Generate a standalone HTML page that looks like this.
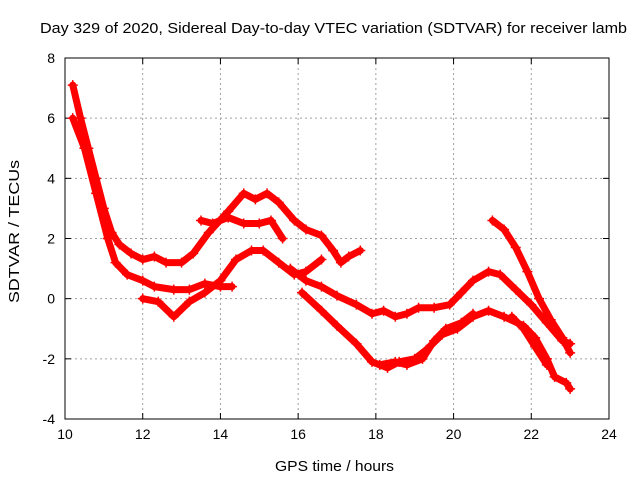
<!DOCTYPE html>
<html><head><meta charset="utf-8"><style>
body{margin:0;background:#fff}
svg{display:block;font-family:"Liberation Sans",sans-serif}
</style></head><body>
<svg id="c" width="640" height="480"></svg>
<script>
const xTicks=[10,12,14,16,18,20,22,24];
const yTicks=[-4,-2,0,2,4,6,8];
const s1x=[10.2,10.4,10.6,10.8,11,11.2,11.4,11.7,12,12.3,12.6,13,13.3,13.7,14.2,14.6,14.9,15.2,15.5,15.9,16.2,16.6,16.9,17.1,17.3,17.6];
const s1y=[7.1,6,5,4,3,2.2,1.8,1.5,1.3,1.4,1.2,1.2,1.5,2.2,2.9,3.5,3.3,3.5,3.2,2.6,2.3,2.1,1.6,1.2,1.4,1.6];
const s2x=[10.2,10.5,10.8,11.1,11.3,11.6,12,12.3,12.8,13.2,13.6,14,14.3];
const s2y=[6,5,3.5,2,1.2,0.8,0.6,0.4,0.3,0.3,0.5,0.4,0.4];
const s3x=[12,12.4,12.8,13.2,13.6,14,14.4,14.8,15.1,15.5,15.9,16.2,16.6];
const s3y=[0,-0.1,-0.6,-0.1,0.2,0.6,1.3,1.6,1.6,1.2,0.8,0.9,1.3];
const s4x=[13.5,13.8,14.2,14.6,15,15.3,15.6];
const s4y=[2.6,2.5,2.7,2.5,2.5,2.6,2.0];
const s5x=[15.8,16.2,16.6,17,17.5,17.9,18.2,18.5,18.8,19.1,19.5,19.9,20.2,20.5,20.9,21.2,21.6,22,22.4,22.8,23];
const s5y=[1.0,0.6,0.4,0.1,-0.2,-0.5,-0.4,-0.6,-0.5,-0.3,-0.3,-0.2,0.2,0.6,0.9,0.8,0.3,-0.2,-0.8,-1.4,-1.5];
const s6x=[16.1,16.6,17,17.5,17.9,18.3,18.6,19,19.3,19.7,20.1,20.5,20.9,21.3,21.8,22.1,22.4,22.6,22.9,23];
const s6y=[0.2,-0.4,-0.9,-1.5,-2.1,-2.3,-2.1,-2.0,-1.7,-1.2,-1.0,-0.6,-0.4,-0.6,-0.9,-1.3,-2.0,-2.6,-2.8,-3.0];
const s7x=[18.1,18.5,18.8,19.2,19.5,19.8,20.2,20.5];
const s7y=[-2.2,-2.1,-2.2,-2.0,-1.4,-1.0,-0.8,-0.5];
const s8x=[21,21.3,21.6,21.9,22.2,22.5,22.8,23];
const s8y=[2.6,2.3,1.7,0.9,0,-0.7,-1.3,-1.8];
const s9x=[21.5,21.8,22.1,22.4];
const s9y=[-0.6,-1.0,-1.6,-2.2];
const series=[[s1x,s1y],[s2x,s2y],[s3x,s3y],[s4x,s4y],[s5x,s5y],[s6x,s6y],[s7x,s7y],[s8x,s8y],[s9x,s9y]];
const L=65,R=609,T=58,B=419;
const X=v=>L+(v-10)/14*(R-L);
const Y=v=>B-(v+4)/12*(B-T);
const NS="http://www.w3.org/2000/svg";
const svg=document.getElementById('c');
function mk(t,a){const e=document.createElementNS(NS,t);for(const k in a)e.setAttribute(k,a[k]);svg.appendChild(e);return e;}
xTicks.forEach(v=>{
 if(v>10&&v<24){const g=mk('line',{x1:X(v),x2:X(v),y1:T,y2:B,stroke:'#a0a0a0','stroke-dasharray':'2,3'});
 
 }
 const t=mk('text',{x:X(v),y:B+20,'text-anchor':'middle','font-size':'14'});t.textContent=v;
 
 
 mk('line',{x1:X(v),x2:X(v),y1:B,y2:B-6,stroke:'#000'});
 mk('line',{x1:X(v),x2:X(v),y1:T,y2:T+6,stroke:'#000'});
});
yTicks.forEach(v=>{
 if(v>-4&&v<8){const g=mk('line',{x1:L,x2:R,y1:Y(v),y2:Y(v),stroke:'#a0a0a0','stroke-dasharray':'2,3'});
 
 }
 const t=mk('text',{x:L-10,y:Y(v)+5,'text-anchor':'end','font-size':'14'});t.textContent=v;
 
 
 mk('line',{x1:L,x2:L+6,y1:Y(v),y2:Y(v),stroke:'#000'});
 mk('line',{x1:R,x2:R-6,y1:Y(v),y2:Y(v),stroke:'#000'});
});
const fr=mk('rect',{x:L,y:T,width:R-L,height:B-T,fill:'none',stroke:'#000'});


series.forEach(([xs,ys])=>{
 const pts=xs.map((x,i)=>X(x)+','+Y(ys[i])).join(' ');
 const p=mk('polyline',{points:pts,fill:'none',stroke:'#f00','stroke-width':'7','stroke-linejoin':'round','stroke-linecap':'round'});
 
 
 xs.forEach((x,i)=>{
  const px=X(x),py=Y(ys[i]);
  const m=mk('path',{d:`M${px-5},${py}h10M${px},${py-5}v10`,stroke:'#f00','stroke-width':'1.5'});
  
  
 });
});
const title=mk('text',{x:40,y:33,'font-size':'15',textLength:'587',lengthAdjust:'spacingAndGlyphs'});
title.textContent='Day 329 of 2020, Sidereal Day-to-day VTEC variation (SDTVAR) for receiver lamb';


const xt=mk('text',{x:275,y:471,'font-size':'15',textLength:'119',lengthAdjust:'spacingAndGlyphs'});
xt.textContent='GPS time / hours';


const yt=mk('text',{x:-303,y:19,'font-size':'15',textLength:'143',lengthAdjust:'spacingAndGlyphs',transform:'rotate(-90)'});
yt.textContent='SDTVAR / TECUs';


</script>
</body></html>
